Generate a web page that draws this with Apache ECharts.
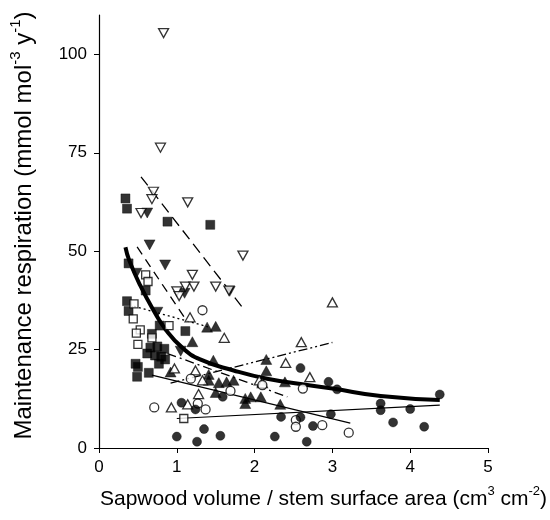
<!DOCTYPE html>
<html><head><meta charset="utf-8">
<script src="https://cdn.jsdelivr.net/npm/echarts@6/dist/echarts.min.js"></script>
<style>html,body{margin:0;padding:0;background:#fff}#c{width:550px;height:520px}</style>
</head><body><div id="c"></div>
<script>
// ---- data ----
var filledSquares = [[0.34,63.4],[0.36,60.8],[0.88,57.5],[1.43,56.7],[0.38,46.9],[0.6,40],[0.36,37.3],[0.38,34.8],[0.78,31.1],[1.11,29.7],[0.68,29],[0.66,25.5],[0.75,25.8],[0.84,25.2],[0.8,23.2],[0.62,24],[0.72,23.5],[0.85,22.5],[0.47,21.4],[0.5,20.6],[0.64,19.1],[0.49,18.1],[0.77,21.4]];
var openSquares = [[0.6,44],[0.63,42.3],[0.45,36.6],[0.44,32.8],[0.9,31.1],[0.53,30],[0.48,29.2],[0.68,28],[0.5,26.3],[1.09,7.5]];
var filledDown = [[0.62,59.7],[0.65,51.6],[0.85,46.5],[0.48,44.4],[1.1,39.3],[1.68,39.8],[0.75,34.5],[1.05,24.6]];
var openDown = [[0.83,105.4],[0.79,76.3],[0.7,65.1],[0.68,63.2],[1.14,62.4],[0.54,59.7],[1.85,48.9],[1.2,44],[1.11,41],[1.22,41],[1.5,41],[1.0,39.8],[1.03,38.6],[1.67,40]];
var filledUp = [[1.39,30.7],[1.5,30.9],[1.2,27],[0.92,19.3],[1.41,18.7],[1.41,17.2],[1.54,16.6],[1.64,16.8],[1.73,17.2],[1.5,14.1],[1.88,12.6],[1.88,11.3],[1.95,13],[2.08,13],[2.15,22.5],[2.15,19.6],[2.33,11.1],[2.39,16.8],[1.47,22.3]];
var openUp = [[3.0,37],[2.6,26.9],[2.4,21.6],[2.71,18],[1.17,33.2],[1.61,28],[0.97,20.2],[1.24,19.7],[1.33,17.2],[1.28,13.7],[0.93,10.3],[1.14,11.1],[2.06,17.2],[2.1,16.5]];
var openCircles = [[1.33,35],[1.18,17.6],[1.69,14.5],[0.71,10.3],[1.27,11.3],[1.37,9.8],[2.1,16],[2.62,15.1],[2.53,7.1],[2.53,5.4],[2.87,5.8],[3.21,3.9]];
var filledCircles = [[1.06,11.5],[1.24,9.8],[1.59,13],[1.0,2.9],[1.26,1.6],[1.35,4.8],[1.56,3.1],[2.26,2.9],[2.34,7.9],[2.59,20.3],[2.95,16.8],[3.06,14.9],[2.59,7.8],[2.98,8.6],[2.75,5.6],[2.67,1.6],[3.62,11.3],[3.62,9.6],[4.0,9.9],[3.78,6.5],[4.18,5.4],[4.38,13.6]];
// overall fitted curve
var overallFit = [[0.34,51],[0.39,47.6],[0.53,41.3],[0.7,35],[0.86,30],[1.07,25.5],[1.3,22.5],[1.73,19.7],[2.16,17.6],[2.72,15.9],[3.0,15.1],[3.62,13.2],[4.38,12.2]];
// group regression lines (end points)
var fitOpenDown = [[0.54,68.9],[1.84,35.8]];
var fitFilledDown = [[0.49,51.1],[1.1,33.1]];
var fitOpenSquares = [[0.45,36],[1.4,30.8]];
var fitOpenUp = [[0.92,16.5],[3.0,26.8]];
var fitFilledUp = [[0.88,24],[2.42,13]];
var fitOpenCircles = [[0.68,18.5],[3.23,6.3]];
var fitFilledCircles = [[1.0,7.5],[4.38,10.9]];
var xTicks = [0,1,2,3,4,5];
var yTicks = [0,25,50,75,100];

var tri = 'path://M0,0 L10,0 L5,9 Z';
var triUp = 'path://M5,0 L10,9 L0,9 Z';
function pts(data, symbol, filled, size){
  return {type:'scatter', data:data, symbol:symbol, symbolSize:size, z:5,
    itemStyle: filled ? {color:'#000', borderColor:'#000', borderWidth:0.5} : {color:'#fff', borderColor:'#000', borderWidth:1.3}};
}
function fit(data, width, dash, smooth){
  return {type:'line', data:data, symbol:'none', z:3, silent:true, smooth:!!smooth,
    lineStyle:{color:'#000', width:width, type:dash}};
}
var chart = echarts.init(document.getElementById('c'), null, {renderer:'canvas'});
var font = 'Liberation Sans';
function richTitle(size, pad){
  return {padding:pad, rich:{a:{fontSize:size, fontFamily:font, color:'#000', lineHeight:size+4, verticalAlign:'bottom'},
                s:{fontSize:Math.round(size*0.62), fontFamily:font, color:'#000', lineHeight:size+4, verticalAlign:'top'}}};
}
chart.setOption({
  animation:false,
  backgroundColor:'#fff',
  grid:{left:98, right:62, top:15, bottom:72},
  xAxis:{type:'value', min:0, max:5, interval:1,
    axisLine:{lineStyle:{color:'#000', width:1.2}},
    axisTick:{inside:false, length:5, lineStyle:{color:'#000'}, customValues:xTicks},
    axisLabel:{color:'#000', fontSize:17, fontFamily:font, margin:11, customValues:xTicks},
    splitLine:{show:false},
    name:'{a|Sapwood volume / stem surface area (cm}{s|3}{a| cm}{s|-2}{a|)}',
    nameLocation:'middle', nameGap:37,
    nameTextStyle:richTitle(21, [0,0,0,60])
  },
  yAxis:{type:'value', min:0, max:110,
    axisLine:{lineStyle:{color:'#000', width:1.2}},
    axisTick:{inside:false, length:5, lineStyle:{color:'#000'}, customValues:yTicks},
    axisLabel:{color:'#000', fontSize:17, fontFamily:font, margin:12, customValues:yTicks},
    splitLine:{show:false},
    name:'{a|Maintenance respiration (mmol mol}{s|-3}{a| y}{s|-1}{a|)}',
    nameLocation:'middle', nameGap:63, nameRotate:90,
    nameTextStyle:richTitle(24, [0,0,0,12])
  },
  series:[
    fit(overallFit, 4, 'solid', true),
    fit(fitOpenDown, 1.3, [11,6]),
    fit(fitFilledDown, 1.3, [9,6]),
    fit(fitOpenSquares, 1.3, [2,3]),
    fit(fitOpenUp, 1.3, [9,3,2,3,2,3]),
    fit(fitFilledUp, 1.3, [9,4,2,4]),
    fit(fitOpenCircles, 1.2, 'solid'),
    fit(fitFilledCircles, 1.2, 'solid'),
    pts(filledSquares, 'rect', true, 9),
    pts(openSquares, 'rect', false, 8),
    pts(filledDown, tri, true, [11,10]),
    pts(openDown, tri, false, [10,9]),
    pts(filledUp, triUp, true, [11,10]),
    pts(openUp, triUp, false, [10,9]),
    pts(openCircles, 'circle', false, 9),
    pts(filledCircles, 'circle', true, 9)
  ]
});
</script></body></html>
